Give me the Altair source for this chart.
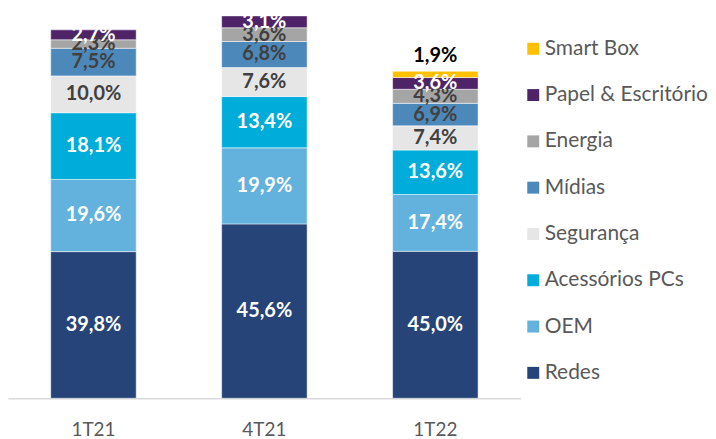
import altair as alt
import pandas as pd

periods = ["1T21", "4T21", "1T22"]
categories = ["Redes", "OEM", "Acessórios PCs", "Segurança", "Mídias",
              "Energia", "Papel & Escritório", "Smart Box"]
pct_1T21 = [39.8, 19.6, 18.1, 10.0, 7.5, 2.3, 2.7, 0.0]
pct_4T21 = [45.6, 19.9, 13.4, 7.6, 6.8, 3.6, 3.1, 0.0]
pct_1T22 = [45.0, 17.4, 13.6, 7.4, 6.9, 4.3, 3.6, 1.9]
bar_totals = [370, 384, 328]  # relative bar sizes

colors = {
    "Smart Box": "#ffc000",
    "Papel & Escritório": "#4f2368",
    "Energia": "#a5a5a5",
    "Mídias": "#4d88bb",
    "Segurança": "#e6e6e6",
    "Acessórios PCs": "#00acd9",
    "OEM": "#62b2dd",
    "Redes": "#264478",
}
label_colors = {
    "Smart Box": "#000000",
    "Papel & Escritório": "#ffffff",
    "Energia": "#404040",
    "Mídias": "#404040",
    "Segurança": "#404040",
    "Acessórios PCs": "#ffffff",
    "OEM": "#ffffff",
    "Redes": "#ffffff",
}

rows = []
for period, pcts, total in zip(periods, [pct_1T21, pct_4T21, pct_1T22], bar_totals):
    base = 0.0
    for order, (cat, p) in enumerate(zip(categories, pcts)):
        if p <= 0:
            continue
        v = p / 100.0 * total
        rows.append({
            "period": period,
            "category": cat,
            "order": order,
            "y0": base,
            "y1": base + v,
            "mid": base + v / 2,
            "label": f"{p:.1f}".replace(".", ",") + "%",
            "lcolor": label_colors[cat],
        })
        base += v
df = pd.DataFrame(rows)

legend_order = list(reversed(categories))
FONT = "Lato"

x = alt.X("period:N", sort=periods, title=None,
          scale=alt.Scale(paddingInner=0.5, paddingOuter=0.25),
          axis=alt.Axis(labelAngle=0, ticks=False, domainColor="#d9d9d9",
                        domainWidth=1.5, labelColor="#595959", labelFontSize=19,
                        labelFont=FONT, labelPadding=22, grid=False))
yscale = alt.Scale(domain=[0, 391], nice=False, zero=True)

bars = alt.Chart(df).mark_bar(stroke="white", strokeWidth=0.5).encode(
    x=x,
    y=alt.Y("y0:Q", scale=yscale, axis=None),
    y2="y1:Q",
    color=alt.Color("category:N",
                    scale=alt.Scale(domain=legend_order,
                                    range=[colors[c] for c in legend_order]),
                    legend=alt.Legend(title=None, orient="none", legendX=517, legendY=29.5,
                                      symbolType="square", symbolSize=144,
                                      symbolStrokeWidth=0, labelFontSize=21,
                                      labelFont=FONT, labelColor="#595959",
                                      labelLimit=400,
                                      rowPadding=24.5, labelOffset=1, padding=0)),
)

inner = df[df["category"] != "Smart Box"]
top = df[df["category"] == "Smart Box"]

labels = alt.Chart(inner).mark_text(font=FONT, fontWeight="bold", fontSize=20,
                                    baseline="middle").encode(
    x=alt.X("period:N", sort=periods),
    y=alt.Y("mid:Q", scale=yscale),
    text="label:N",
    color=alt.Color("lcolor:N", scale=None),
)

top_label = alt.Chart(top).mark_text(font=FONT, fontWeight="bold", fontSize=20,
                                     baseline="middle", dy=-15, color="#000000").encode(
    x=alt.X("period:N", sort=periods),
    y=alt.Y("y1:Q", scale=yscale),
    text="label:N",
)

chart = alt.layer(bars, labels, top_label).properties(
    width=515, height=391, background="white",
    padding={"left": 0, "top": 0, "right": 0, "bottom": 0},
).configure_view(stroke=None)

chart.save("out.html", embed_options={"renderer": "svg", "actions": False})
